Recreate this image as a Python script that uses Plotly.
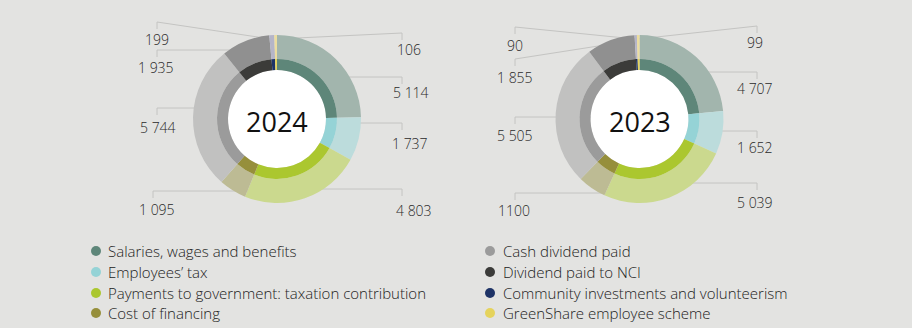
import math
import plotly.graph_objects as go

# ---------------- data ----------------
categories = [
    "Salaries, wages and benefits",
    "Employees’ tax",
    "Payments to government: taxation contribution",
    "Cost of financing",
    "Cash dividend paid",
    "Dividend paid to NCI",
    "Community investments and volunteerism",
    "GreenShare employee scheme",
]
years = ["2024", "2023"]
values_2024 = [5114, 1737, 4803, 1095, 5744, 1935, 199, 106]
values_2023 = [4707, 1652, 5039, 1100, 5505, 1855, 90, 99]
# value labels as printed in the source (the 2023 "1100" is printed without a space)
text_overrides = {("2023", 3): "1100"}

# ---------------- styles ----------------
inner_colors = ["#5e8679", "#95d3d6", "#abc72f", "#968f3b",
                "#9b9b9b", "#3b3b39", "#1e3366", "#e5d35c"]
outer_colors = ["#a2b5ad", "#bcdcdc", "#cbd98e", "#bdbb94",
                "#c1c1c0", "#909090", "#b5b5c8", "#ecdd9f"]
BG = "#e3e3e1"
W, H = 912, 328
FONT = "Open Sans"

centers = [(277, 119), (639.5, 119)]
R_OUT, R_MID, R_HOLE = 84, 60, 49

# label placement per slice: (tick x, leader y, label centre x, label centre y, slanted?)
label_layout = {
    "2024": [
        (402, 77, 411, 92, False),
        (402, 123, 410, 144, False),
        (402, 189, 414, 210, False),
        (153, 191, 157, 209, False),
        (157, 108, 158, 127, False),
        (157, 50, 156, 68, False),
        (157, 22, 157, 39, True),
        (402, 33, 409, 49, True),
    ],
    "2023": [
        (757, 72, 755, 88, False),
        (757, 131, 755, 147, False),
        (757, 183, 755, 202, False),
        (515, 193, 514, 210, False),
        (515, 117, 515, 136, False),
        (515, 59, 515, 77, True),
        (515, 27, 515, 45, True),
        (757, 26, 755, 42, True),
    ],
}


def px(x):
    return x / W


def py(y):
    return 1 - y / H


fig = go.Figure()
shapes = []
annotations = []

for yr, vals, (cx, cy) in zip(years, [values_2024, values_2023], centers):
    fig.add_trace(go.Pie(
        labels=categories, values=vals, sort=False, direction="clockwise",
        rotation=0, hole=R_MID / R_OUT,
        marker=dict(colors=outer_colors, line=dict(width=0)),
        textinfo="none", hoverinfo="label+value", showlegend=False,
        domain=dict(x=[px(cx - R_OUT), px(cx + R_OUT)],
                    y=[py(cy + R_OUT), py(cy - R_OUT)]),
    ))
    fig.add_trace(go.Pie(
        labels=categories, values=vals, sort=False, direction="clockwise",
        rotation=0, hole=R_HOLE / R_MID,
        marker=dict(colors=inner_colors, line=dict(width=0)),
        textinfo="none", hoverinfo="label+value", showlegend=False,
        domain=dict(x=[px(cx - R_MID), px(cx + R_MID)],
                    y=[py(cy + R_MID), py(cy - R_MID)]),
    ))

    total = sum(vals)
    cum = 0
    for i, (v, (tx, ly, lx, lyc, slanted)) in enumerate(zip(vals, label_layout[yr])):
        mid = (cum + v / 2) / total * 2 * math.pi
        cum += v
        if slanted:
            ex = cx + 80 * math.sin(mid)
            ey = cy - 80 * math.cos(mid)
        else:
            ex, ey = cx, ly
        shapes.append(dict(type="line", xref="paper", yref="paper", layer="below",
                           x0=px(tx), y0=py(ly), x1=px(ex), y1=py(ey),
                           line=dict(color="#c4c4c2", width=1)))
        shapes.append(dict(type="line", xref="paper", yref="paper", layer="below",
                           x0=px(tx), y0=py(ly), x1=px(tx), y1=py(ly + 7),
                           line=dict(color="#c4c4c2", width=1)))
        txt = text_overrides.get((yr, i), f"{v:,}".replace(",", " "))
        annotations.append(dict(
            text=txt, xref="paper", yref="paper",
            x=px(lx), y=py(lyc), xanchor="center", yanchor="middle",
            showarrow=False,
            font=dict(family=FONT, size=14, color="#2a2a2a", weight=300)))

    shapes.append(dict(type="circle", xref="paper", yref="paper", layer="below",
                       x0=px(cx - R_HOLE), x1=px(cx + R_HOLE),
                       y0=py(cy + R_HOLE), y1=py(cy - R_HOLE),
                       fillcolor="white", line=dict(width=0)))
    annotations.append(dict(
        text=yr, xref="paper", yref="paper", x=px(cx), y=py(cy + 2),
        xanchor="center", yanchor="middle", showarrow=False,
        font=dict(family=FONT, size=27, color="#111111", weight=400)))

legend_cols = [(96, 106), (490, 501)]
legend_rows = [251, 272, 293, 313]
for i, (cat, col) in enumerate(zip(categories, inner_colors)):
    mx, tx = legend_cols[i // 4]
    ry = legend_rows[i % 4]
    shapes.append(dict(type="circle", xref="paper", yref="paper",
                       x0=px(mx - 5), x1=px(mx + 5), y0=py(ry + 5), y1=py(ry - 5),
                       fillcolor=col, line=dict(width=0)))
    annotations.append(dict(
        text=cat, xref="paper", yref="paper", x=px(tx), y=py(ry),
        xanchor="left", yanchor="middle", showarrow=False,
        font=dict(family=FONT, size=15, color="#222222", weight=300)))

fig.update_layout(
    width=W, height=H, margin=dict(l=0, r=0, t=0, b=0),
    paper_bgcolor=BG, plot_bgcolor=BG,
    shapes=shapes, annotations=annotations, showlegend=False,
)

fig.write_html("out.html")
